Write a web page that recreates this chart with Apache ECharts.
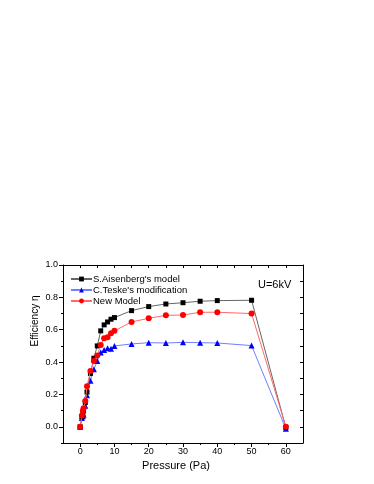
<!DOCTYPE html>
<html><head><meta charset="utf-8">
<script src="https://cdn.jsdelivr.net/npm/echarts@6/dist/echarts.min.js"></script>
<style>html,body{margin:0;padding:0;background:#fff}#c{width:374px;height:484px}</style>
</head><body><div id="c"></div>
<script>
var pressure = [0, 0.5, 0.8, 1, 1.5, 2, 3, 4, 5, 6, 7, 8, 9, 10, 15, 20, 25, 30, 35, 40, 50, 60];
var aisenberg = [0, 0.06, 0.08, 0.10, 0.15, 0.215, 0.33, 0.424, 0.50, 0.593, 0.63, 0.648, 0.665, 0.675, 0.718, 0.743, 0.759, 0.767, 0.776, 0.78, 0.782, -0.005];
var teske = [0, 0.055, 0.065, 0.075, 0.13, 0.195, 0.284, 0.355, 0.407, 0.46, 0.475, 0.486, 0.483, 0.50, 0.512, 0.52, 0.518, 0.522, 0.52, 0.518, 0.502, -0.012];
var newModel = [0, 0.07, 0.10, 0.115, 0.16, 0.25, 0.345, 0.407, 0.44, 0.506, 0.547, 0.554, 0.578, 0.593, 0.648, 0.671, 0.689, 0.691, 0.708, 0.708, 0.70, 0.0];
var xMajor = [0, 10, 20, 30, 40, 50, 60];
var xMinor = [5, 15, 25, 35, 45, 55];
var xTop = [0, 5, 10, 15, 20, 25, 30, 35, 40, 45, 50, 55, 60];
var yMajor = [0, 0.2, 0.4, 0.6, 0.8, 1.0];
var yMinor = [-0.1, 0.1, 0.3, 0.5, 0.7, 0.9];
var yAll = [0, 0.1, 0.2, 0.3, 0.4, 0.5, 0.6, 0.7, 0.8, 0.9];
var seriesNames = ["S.Aisenberg's model", "C.Teske's modification", "New Model"];

function pairs(xs, ys){ return xs.map(function(x,i){ return [x, ys[i]]; }); }
var FONT = 'Liberation Sans, Arial, sans-serif';
var chart = echarts.init(document.getElementById('c'), null, {renderer:'canvas'});
var hide = {show:false};
var gridCommon = {left:63, right:71, top:265, height:178};
function xAx(pos, ticks, len, inside, labels, line){
  return {type:'value', min:-5, max:65, position:pos, gridIndex:0,
    axisLine:{show:line, onZero:false, lineStyle:{color:'#000', width:1}},
    axisTick:{show:true, customValues:ticks, length:len, inside:inside, lineStyle:{color:'#000', width:1}},
    axisLabel: labels ? {show:true, customValues:ticks, fontSize:9, color:'#000', fontFamily:FONT, margin:4} : {show:false},
    splitLine:hide};
}
function yAx(pos, ticks, len, inside, labels, line){
  return {type:'value', min:-0.1, max:1.0, position:pos, gridIndex:0,
    axisLine:{show:line, onZero:false, lineStyle:{color:'#000', width:1}},
    axisTick:{show:true, customValues:ticks, length:len, inside:inside, lineStyle:{color:'#000', width:1}},
    axisLabel: labels ? {show:true, customValues:ticks, fontSize:9, color:'#000', fontFamily:FONT, margin:5,
      formatter:function(v){ return v.toFixed(1); }} : {show:false},
    splitLine:hide};
}
var option = {
  animation:false,
  backgroundColor:'#fff',
  textStyle:{fontFamily:FONT},
  grid:gridCommon,
  xAxis:[xAx('bottom', xMajor, 4, false, true, true), xAx('bottom', xMinor, 2, false, false, false), xAx('top', xTop, 3, true, false, true)],
  yAxis:[yAx('left', yMajor, 4, false, true, true), yAx('left', yMinor, 2, false, false, false), yAx('right', yAll, 3, true, false, true)],
  legend:{orient:'vertical', left:65, top:269, itemGap:1, itemWidth:21, itemHeight:6,
    textStyle:{fontSize:9.5, color:'#000', fontFamily:FONT, padding:[0,0,0,-4]},
    data:seriesNames},
  title:{text:'U=6kV', left:253, top:274, textStyle:{fontSize:11, fontWeight:'normal', color:'#000', fontFamily:FONT}},
  graphic:[
    {type:'text', x:35, y:321, rotation:Math.PI/2, style:{text:'Efficiency \u03b7', fontSize:10, fontFamily:FONT, fill:'#000', align:'center', verticalAlign:'middle'}},
    {type:'text', x:176, y:466, style:{text:'Pressure (Pa)', fontSize:11, fontFamily:FONT, fill:'#000', align:'center', verticalAlign:'middle'}}
  ],
  series:[
    {name:seriesNames[0], type:'line', data:pairs(pressure, aisenberg), symbol:'rect', symbolSize:5,
      itemStyle:{color:'#000'}, lineStyle:{color:'#666', width:1}, z:3},
    {name:seriesNames[1], type:'line', data:pairs(pressure, teske), symbol:'triangle', symbolSize:6,
      itemStyle:{color:'#0000ff'}, lineStyle:{color:'#7080ff', width:1}, z:2},
    {name:seriesNames[2], type:'line', data:pairs(pressure, newModel), symbol:'circle', symbolSize:6,
      itemStyle:{color:'#ff0000'}, lineStyle:{color:'#ff6a6a', width:1}, z:4}
  ]
};
chart.setOption(option);
</script></body></html>
